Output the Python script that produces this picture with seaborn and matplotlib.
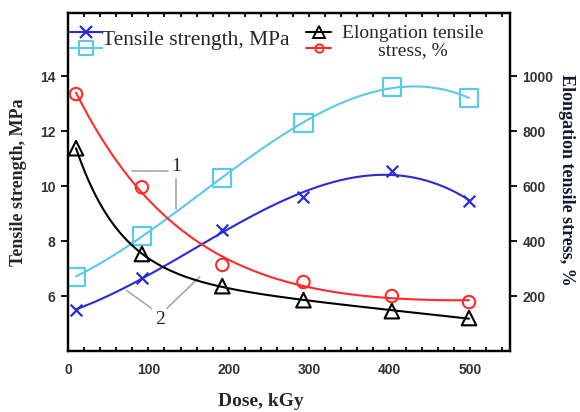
import numpy as np
import pandas as pd
import matplotlib
matplotlib.use("Agg")
import matplotlib.pyplot as plt
import seaborn as sns
from matplotlib.lines import Line2D
from matplotlib.ticker import MultipleLocator

# ---------------- data ----------------
dose = [10, 92, 192, 293, 403, 499]                 # kGy
ts_sample2 = [5.5, 6.65, 8.4, 9.6, 10.55, 9.45]      # blue X, MPa
ts_sample1 = [6.7, 8.2, 10.3, 12.3, 13.6, 13.2]      # cyan squares, MPa
el_sample2 = [738, 353, 236, 185, 145, 120]          # black triangles, %
el_sample1 = [935, 596, 313, 251, 200, 178]          # red circles, %
x_ticks = [0, 100, 200, 300, 400, 500]
left_ticks = [6, 8, 10, 12, 14]
right_ticks = [200, 400, 600, 800, 1000]

C_BLUE = "#2a2ad6"
C_CYAN = "#5cc8ea"
C_RED = "#ff2a2a"
C_BLACK = "#000000"

sns.set_theme(style="white")
plt.rcParams["font.family"] = ["DejaVu Sans"]
SERIF = "Liberation Serif"
SANS = "Liberation Sans"

df = pd.DataFrame({"dose": dose, "ts2": ts_sample2, "ts1": ts_sample1,
                   "el2": el_sample2, "el1": el_sample1})

fig = plt.figure(figsize=(5.8, 4.12), dpi=100)
ax = fig.add_axes([68/580, 1-351/412, 442/580, 338/412])
ax2 = ax.twinx()

# ---- smooth trend curves for tensile strength (cubic fits) ----
sns.regplot(data=df, x="dose", y="ts2", order=3, ci=None, scatter=False, ax=ax,
            line_kws=dict(color=C_BLUE, lw=1.5), truncate=True)
sns.regplot(data=df, x="dose", y="ts1", order=3, ci=None, scatter=False, ax=ax,
            line_kws=dict(color=C_CYAN, lw=1.5), truncate=True)

# ---- exponential-decay trend curves for elongation ----
def exp_fit(x, y):
    x = np.asarray(x, float); y = np.asarray(y, float)
    best = None
    for tau in np.linspace(20, 250, 231):
        A = np.column_stack([np.exp(-x/tau), np.ones_like(x), x])
        coef, *_ = np.linalg.lstsq(A, y, rcond=None)
        err = np.sum((A @ coef - y)**2)
        if best is None or err < best[0]:
            best = (err, tau, coef)
    _, tau, coef = best
    xs = np.linspace(x.min(), x.max(), 300)
    ys = coef[0]*np.exp(-xs/tau) + coef[1] + coef[2]*xs
    return xs, ys

xs, ys = exp_fit(dose, el_sample2)
sns.lineplot(x=xs, y=ys, ax=ax2, color=C_BLACK, lw=1.5, legend=False)
xs, ys = exp_fit(dose, el_sample1)
sns.lineplot(x=xs, y=ys, ax=ax2, color=C_RED, lw=1.5, legend=False)

# ---- markers ----
sns.scatterplot(data=df, x="dose", y="ts2", ax=ax, marker="x", s=70,
                color=C_BLUE, linewidth=1.6, zorder=5, legend=False)
sns.scatterplot(data=df, x="dose", y="ts1", ax=ax, marker="s", s=170,
                facecolor="none", edgecolor=C_CYAN, linewidth=1.6, zorder=5, legend=False)
sns.scatterplot(data=df, x="dose", y="el2", ax=ax2, marker="^", s=110,
                facecolor="none", edgecolor=C_BLACK, linewidth=1.5, zorder=5, legend=False)
sns.scatterplot(data=df, x="dose", y="el1", ax=ax2, marker="o", s=80,
                facecolor="none", edgecolor=C_RED, linewidth=1.5, zorder=5, legend=False)

# ---- axes limits / ticks ----
ax.set_xlim(0, 550)
ax.set_ylim(4.0, 16.3)
ax2.set_ylim(0, 1230)
ax.set_xticks(x_ticks)
ax.xaxis.set_minor_locator(MultipleLocator(20))
ax.set_yticks(left_ticks)
ax2.set_yticks(right_ticks)

tick_font = dict(family=SANS, weight="bold", size=10)
ax.set_xticklabels([str(t) for t in x_ticks], fontdict=tick_font, color="#333333")
ax.set_yticklabels([str(t) for t in left_ticks], fontdict=tick_font, color="#333333")
ax2.set_yticklabels([str(t) for t in right_ticks], fontdict=tick_font, color="#333333")

ax.tick_params(axis="x", which="major", direction="in", length=3, width=1.3,
               top=True, bottom=True, pad=9, color="black")
ax.tick_params(axis="x", which="minor", direction="in", length=3, width=1.3,
               top=True, bottom=True, color="black")
ax.tick_params(axis="y", which="major", direction="out", length=5, width=1.3,
               left=True, pad=4, color="black")
ax2.tick_params(axis="y", which="major", direction="out", length=5, width=1.3,
                right=True, pad=4, color="black")

for a in (ax, ax2):
    for s in a.spines.values():
        s.set_color("black")
        s.set_linewidth(1.6)
ax.grid(False); ax2.grid(False)

ax.set_xlabel(""); ax.set_ylabel(""); ax2.set_xlabel(""); ax2.set_ylabel("")
fig.text(261/580, 1-402/412, "Dose, kGy", family=SERIF, weight="bold", size=14,
         ha="center", va="center")
fig.text(19/580, 1-182/412, "Tensile strength, MPa", family=SERIF, weight="bold",
         size=13, rotation=90, ha="center", va="center")
fig.text(566/580, 1-180/412, "Elongation tensile stress, %", family=SERIF,
         weight="bold", size=13, rotation=270, ha="center", va="center",
         color="#101830")

# ---- annotations (sample numbers with leader lines) ----
gray = "#a8a8a8"
ax.text(134, 10.7, "1", family=SERIF, size=14, ha="center", va="center")
ax.plot([80, 124], [10.55, 10.55], color=gray, lw=1.2)
ax.plot([135, 135], [10.25, 9.15], color=gray, lw=1.2)
ax.text(114, 5.15, "2", family=SERIF, size=14, ha="center", va="center")
ax.plot([73, 104], [6.2, 5.55], color=gray, lw=1.2)
ax.plot([123, 164], [5.55, 6.7], color=gray, lw=1.2)

# ---- legends ----
h_x = Line2D([], [], color=C_BLUE, marker="x", ms=8, mew=1.6, lw=1.5)
h_sq = Line2D([], [], color=C_CYAN, marker="s", ms=10, mfc="none", mew=1.5, lw=1.5)
h_tri = Line2D([], [], color=C_BLACK, marker="^", ms=8, mfc="none", mew=1.4, lw=1.5)
h_ci = Line2D([], [], color=C_RED, marker="o", ms=6, mfc="none", mew=1.4, lw=1.5)

leg1 = ax2.legend([h_x, h_sq], ["", ""], loc="upper left",
                  bbox_to_anchor=(-0.005, 0.975), frameon=False, fontsize=10,
                  handlelength=2.3, labelspacing=0.15, handletextpad=0.0,
                  borderpad=0.3, borderaxespad=0.0)
ax2.add_artist(leg1)
leg2 = ax2.legend([h_tri, h_ci], ["", ""], loc="upper left",
                  bbox_to_anchor=((302-68)/442, 0.975), frameon=False, fontsize=10,
                  handlelength=1.8, labelspacing=0.15, handletextpad=0.0,
                  borderpad=0.3, borderaxespad=0.0)

ax2.text((102-68)/442, 1-(40-13)/338, "Tensile strength, MPa", transform=ax2.transAxes,
         family=SERIF, size=15.5, ha="left", va="center")
ax2.text((413-68)/442, 1-(42-13)/338, "Elongation tensile\nstress, %", transform=ax2.transAxes,
         family=SERIF, size=14, ha="center", va="center", linespacing=1.0)

fig.savefig("out.png", dpi=100)
